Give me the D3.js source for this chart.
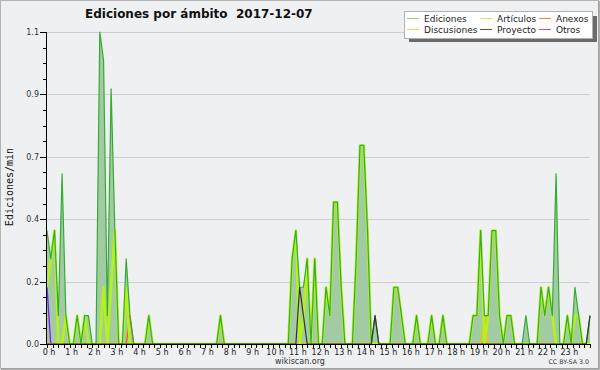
<!DOCTYPE html>
<html>
<head>
<meta charset="utf-8">
<script src="https://cdn.jsdelivr.net/npm/d3@7/dist/d3.min.js"></script>
<style>
    body { margin: 0; background: #ffffff; }
    svg { display: block; font-family: "DejaVu Sans", sans-serif; }
</style>
</head>
<body>
<div id="chart"></div>
<script>
// edits per minute, one value per 10 minute bin (0:00 .. 24:00)
const binMinutes = 10;

const ediciones = [
    0.4, 0.3, 0.4, 0.1, 0.6, 0.1, 0, 0, 0.1, 0, 0.1, 0.1,
    0, 0, 1.1, 1.0, 0.1, 0.9, 0.4, 0, 0, 0.3, 0.1, 0,
    0, 0, 0, 0.1, 0, 0, 0, 0, 0, 0, 0, 0,
    0, 0, 0, 0, 0, 0, 0, 0, 0, 0, 0.1, 0,
    0, 0, 0, 0, 0, 0, 0, 0, 0, 0, 0, 0,
    0, 0, 0, 0, 0, 0.3, 0.4, 0.2, 0.2, 0.3, 0, 0.3,
    0, 0, 0.2, 0.1, 0.5, 0.5, 0.2, 0, 0, 0, 0.3, 0.7,
    0.7, 0.4, 0, 0.1, 0, 0, 0, 0, 0.2, 0.2, 0.1, 0,
    0, 0, 0.1, 0, 0, 0, 0.1, 0, 0, 0.1, 0, 0,
    0, 0, 0, 0, 0, 0.1, 0.1, 0.4, 0.1, 0.1, 0.4, 0.4,
    0.1, 0, 0.1, 0.1, 0, 0, 0, 0.1, 0, 0, 0, 0.2,
    0.1, 0.2, 0.1, 0.6, 0, 0, 0.1, 0, 0.2, 0.1, 0, 0,
    0.1
];

const articulos = [
    0.2, 0.3, 0.4, 0, 0, 0.1, 0, 0, 0.1, 0, 0.1, 0,
    0, 0, 0, 0.2, 0, 0.2, 0.4, 0, 0, 0.2, 0, 0,
    0, 0, 0, 0.1, 0, 0, 0, 0, 0, 0, 0, 0,
    0, 0, 0, 0, 0, 0, 0, 0, 0, 0, 0.1, 0,
    0, 0, 0, 0, 0, 0, 0, 0, 0, 0, 0, 0,
    0, 0, 0, 0, 0, 0.3, 0.4, 0, 0.1, 0.3, 0, 0.3,
    0, 0, 0.2, 0.1, 0.5, 0.5, 0.2, 0, 0, 0, 0.3, 0.7,
    0.7, 0.4, 0, 0, 0, 0, 0, 0, 0.2, 0.2, 0.1, 0,
    0, 0, 0.1, 0, 0, 0, 0.1, 0, 0, 0.1, 0, 0,
    0, 0, 0, 0, 0, 0.1, 0.1, 0.4, 0, 0.1, 0.4, 0.4,
    0.1, 0, 0.1, 0.1, 0, 0, 0, 0, 0, 0, 0, 0.2,
    0.1, 0.2, 0.1, 0, 0, 0, 0.1, 0, 0.1, 0.1, 0, 0,
    0
];

// sparse series: [bin, value], every other bin is 0
const anexos = [[22, 0.1]];
const discusiones = [[116, 0.1]];
const proyecto = [[67, 0.2], [68, 0.1], [87, 0.1], [144, 0.1]];
const otros = [[0, 0.2]];

const hourLabels = ["0 h", "1 h", "2 h", "3 h", "4 h", "5 h", "6 h", "7 h", "8 h", "9 h", "10 h", "11 h",
    "12 h", "13 h", "14 h", "15 h", "16 h", "17 h", "18 h", "19 h", "20 h", "21 h", "22 h", "23 h"];
const yTickLabels = ["0.0", "0.2", "0.4", "0.7", "0.9", "1.1"];
const yMax = 1.1;

const legendItems = [
    {name: "Ediciones", color: "#8fd08f"},
    {name: "Discusiones", color: "#ffd24d"},
    {name: "Artículos", color: "#c8f050"},
    {name: "Proyecto", color: "#555555"},
    {name: "Anexos", color: "#ff7f4a"},
    {name: "Otros", color: "#9b50ff"}
];

function expand(sparse) {
    const values = ediciones.map(() => 0);
    sparse.forEach(([bin, v]) => { values[bin] = v; });
    return values;
}

function drawChart() {
    const width = 600, height = 370;
    const svg = d3.select("#chart")
        .append("svg")
        .attr("width", width)
        .attr("height", height);

    // background + frame
    svg.append("rect")
        .attr("x", 0).attr("y", 0)
        .attr("width", width).attr("height", height)
        .attr("fill", "#eff0f1");
    svg.append("rect")
        .attr("x", 0.5).attr("y", 0.5)
        .attr("width", width - 2).attr("height", height - 2)
        .attr("fill", "none")
        .attr("stroke", "#b4b4b4");
    svg.append("path")
        .attr("d", `M${width - 1},1V${height - 1}H1`)
        .attr("fill", "none")
        .attr("stroke", "#9a9a9a")
        .attr("stroke-width", 1.5);

    const x = d3.scaleLinear().domain([0, 24 * 60]).range([47, 590]);
    const y = d3.scaleLinear().domain([0, yMax]).range([344, 32]);

    // grid lines
    svg.append("g")
        .selectAll("line")
        .data(yTickLabels.slice(1))
        .join("line")
        .attr("x1", 47).attr("x2", 590)
        .attr("y1", (d, i) => Math.round(y(yMax * (i + 1) / 5)) + 0.5)
        .attr("y2", (d, i) => Math.round(y(yMax * (i + 1) / 5)) + 0.5)
        .attr("stroke", "#cfcfcf");

    const xOf = (d, i) => x(i * binMinutes);

    // total area
    svg.append("path")
        .datum(ediciones)
        .attr("d", d3.area().x(xOf).y0(y(0)).y1(d => y(d)))
        .attr("fill", "#a3cba3");

    const line = d3.line().x(xOf).y(d => y(d));

    const drawLine = (values, color, w) => {
        svg.append("path")
            .datum(values)
            .attr("d", line)
            .attr("fill", "none")
            .attr("stroke", color)
            .attr("stroke-width", w)
            .attr("stroke-linejoin", "round");
    };

    drawLine(expand(otros), "#7a1cff", 1.3);
    drawLine(expand(anexos), "#ff5a14", 1.3);
    drawLine(expand(discusiones), "#f5c400", 1.3);
    drawLine(articulos, "#b6f21a", 2.6);
    drawLine(ediciones, "#34ac34", 1.2);
    drawLine(expand(proyecto), "#333333", 1.2);

    // y axis
    const yAxis = svg.append("g").attr("stroke", "#000");
    yAxis.append("line")
        .attr("x1", 46.5).attr("x2", 46.5)
        .attr("y1", 32).attr("y2", 345);
    yAxis.selectAll("line.minor")
        .data(d3.range(0, 21))
        .join("line")
        .attr("class", "minor")
        .attr("x1", d => d % 4 === 0 ? 40 : 43)
        .attr("x2", 46.5)
        .attr("y1", d => Math.round(y(yMax * d / 20)) + 0.5)
        .attr("y2", d => Math.round(y(yMax * d / 20)) + 0.5);
    svg.append("g")
        .selectAll("text")
        .data(yTickLabels)
        .join("text")
        .attr("x", 39)
        .attr("y", (d, i) => y(yMax * i / 5) + 3)
        .attr("text-anchor", "end")
        .attr("font-size", "8px")
        .attr("fill", "#333")
        .text(d => d);

    // x axis
    const xAxis = svg.append("g").attr("stroke", "#000");
    xAxis.append("line")
        .attr("x1", 46).attr("x2", 591)
        .attr("y1", 344.5).attr("y2", 344.5);
    xAxis.selectAll("line.tick")
        .data(d3.range(0, 24 * 4 + 1))
        .join("line")
        .attr("class", "tick")
        .attr("x1", d => Math.round(x(d * 15)) + 0.5)
        .attr("x2", d => Math.round(x(d * 15)) + 0.5)
        .attr("y1", 344.5)
        .attr("y2", 348);
    svg.append("g")
        .selectAll("text")
        .data(hourLabels)
        .join("text")
        .attr("x", (d, i) => x(i * 60) + 2)
        .attr("y", 355)
        .attr("text-anchor", "middle")
        .attr("font-size", "8px")
        .attr("fill", "#222")
        .text(d => d);

    // axis title
    svg.append("text")
        .attr("transform", "translate(13,187) rotate(-90)")
        .attr("text-anchor", "middle")
        .attr("font-family", "DejaVu Sans Mono")
        .attr("font-size", "10px")
        .attr("fill", "#111")
        .text("Ediciones/min");

    // title
    svg.append("text")
        .attr("x", 85)
        .attr("y", 18)
        .attr("font-size", "12px")
        .attr("font-weight", "bold")
        .attr("fill", "#111")
        .attr("xml:space", "preserve")
        .style("white-space", "pre")
        .text("Ediciones por ámbito  2017-12-07");

    // legend
    const legend = svg.append("g");
    legend.append("rect")
        .attr("x", 409).attr("y", 16)
        .attr("width", 188).attr("height", 26)
        .attr("fill", "#6b6b6b");
    legend.append("rect")
        .attr("x", 404.5).attr("y", 11.5)
        .attr("width", 188).attr("height", 27)
        .attr("fill", "#fff")
        .attr("stroke", "#b0b0b0");
    const colX = [407, 480, 539];
    legendItems.forEach((item, i) => {
        const cx = colX[Math.floor(i / 2)];
        const cy = i % 2 === 0 ? 18.5 : 29.5;
        legend.append("line")
            .attr("x1", cx).attr("x2", cx + 12)
            .attr("y1", cy).attr("y2", cy)
            .attr("stroke", item.color);
        legend.append("text")
            .attr("x", cx + 17)
            .attr("y", cy + 3.5)
            .attr("font-size", "9px")
            .attr("fill", "#222")
            .text(item.name);
    });

    // footer
    svg.append("text")
        .attr("x", 300).attr("y", 364)
        .attr("text-anchor", "middle")
        .attr("font-size", "8px")
        .attr("fill", "#333")
        .text("wikiscan.org");
    svg.append("text")
        .attr("x", 589).attr("y", 364)
        .attr("text-anchor", "end")
        .attr("font-size", "6.3px")
        .attr("fill", "#333")
        .text("CC BY-SA 3.0");
}

drawChart();
</script>
</body>
</html>
